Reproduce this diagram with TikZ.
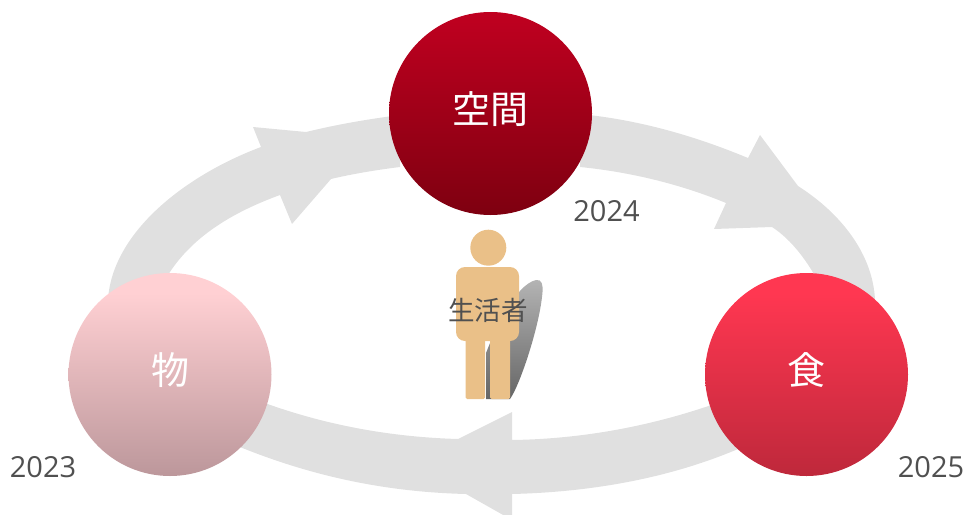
\documentclass[tikz,border=0pt]{standalone}
\usepackage{fontspec}
\setmainfont{Open Sans}
\newfontfamily\cjkreg{Noto Sans CJK JP}
\definecolor{ringgray}{HTML}{E0E0E0}
\definecolor{skin}{HTML}{EAC088}
\definecolor{labelgray}{HTML}{505050}
\definecolor{kukanA}{HTML}{C00020}
\definecolor{kukanB}{HTML}{7E0010}
\definecolor{monoA}{HTML}{FFD0D3}
\definecolor{monoB}{HTML}{BC979B}
\definecolor{shokuA}{HTML}{FF3751}
\definecolor{shokuB}{HTML}{BE283B}
\definecolor{shadowA}{HTML}{B4B4B4}
\definecolor{shadowB}{HTML}{666666}
\pgfdeclareverticalshading{kukanshade}{100bp}{color(0bp)=(kukanB); color(25bp)=(kukanB); color(75bp)=(kukanA); color(100bp)=(kukanA)}
\pgfdeclareverticalshading{monoshade}{100bp}{color(0bp)=(monoB); color(25bp)=(monoB); color(70bp)=(monoA); color(100bp)=(monoA)}
\pgfdeclareverticalshading{shokushade}{100bp}{color(0bp)=(shokuB); color(25bp)=(shokuB); color(70bp)=(shokuA); color(100bp)=(shokuA)}
\pgfdeclareverticalshading{shadowshade}{100bp}{color(0bp)=(shadowB); color(25bp)=(shadowB); color(75bp)=(shadowA); color(100bp)=(shadowA)}
\tikzset{
	ringarrow/.style={fill=ringgray},
	theme/.style={circle,inner sep=0pt,minimum size=203pt,text=white,font=\cjkreg\fontsize{38}{42}\selectfont},
	year/.style={text=labelgray,inner sep=0pt,font=\fontsize{29}{33}\selectfont},
	bodypart/.style={fill=skin},
	}
\newcommand{\themetext}[1]{\raisebox{12pt}{#1}}
\begin{document}
\begin{tikzpicture}[x=1pt,y=-1pt]
\useasboundingbox (0,0) rectangle (965,514);
% ring
\path[ringarrow] (108,300) .. controls (112,232) and (186,175) .. (261,147) -- (253,127) -- (306,132)
  .. controls (335,125) and (362,120) .. (400,115) -- (400,167) .. controls (376,170) and (352,174) .. (331,179)
  -- (292,224) -- (280,195) .. controls (228,214) and (188,240) .. (165,280) -- cycle;
\path[ringarrow] (580,114) .. controls (640,120) and (695,136) .. (748,158) -- (760,135) -- (798,186)
  .. controls (842,214) and (873,255) .. (875,300) -- (820,285) .. controls (808,262) and (792,240) .. (772,227)
  -- (714,229) -- (726,203) .. controls (680,184) and (630,172) .. (580,167) -- cycle;
\path[ringarrow] (745,446) .. controls (675,477) and (595,492) .. (512,494) -- (512,520) -- (466,494)
  .. controls (385,492) and (310,476) .. (235,445) -- (262,402) .. controls (325,425) and (390,437) .. (458,439)
  -- (512,412) -- (512,440) .. controls (580,439) and (650,427) .. (720,402) -- cycle;
% circles
\node[theme,shading=kukanshade] (kukan) at (490.5,113.5) {\themetext{空間}};
\node[theme,shading=monoshade] (mono) at (170,374.5) {\themetext{物}};
\node[theme,shading=shokushade] (shoku) at (806.5,374.5) {\themetext{食}};
\node[year] (y2024) at (606.5,211) {2024};
\node[year] (y2023) at (43,467.5) {2023};
\node[year] (y2025) at (931,467.5) {2025};
% person
\path[shading=shadowshade] (486,399) -- (486,353) .. controls (495,330) and (515,285) .. (536,280)
  .. controls (542,279) and (543,285) .. (542.5,292) .. controls (540,325) and (520,385) .. (510,399) -- cycle;
\fill[bodypart] (488.3,247.7) circle (18);
\fill[bodypart,rounded corners=9pt] (456,267) rectangle (519,341);
\fill[bodypart,rounded corners=1.5pt] (465.7,330) rectangle (485,399);
\fill[bodypart,rounded corners=1.5pt] (490,330) rectangle (510,399);
\node[text=labelgray,inner sep=0pt,font=\cjkreg\fontsize{26.5}{30}\selectfont] (seikatsu) at (488,310.5) {生活者};
\end{tikzpicture}
\end{document}
